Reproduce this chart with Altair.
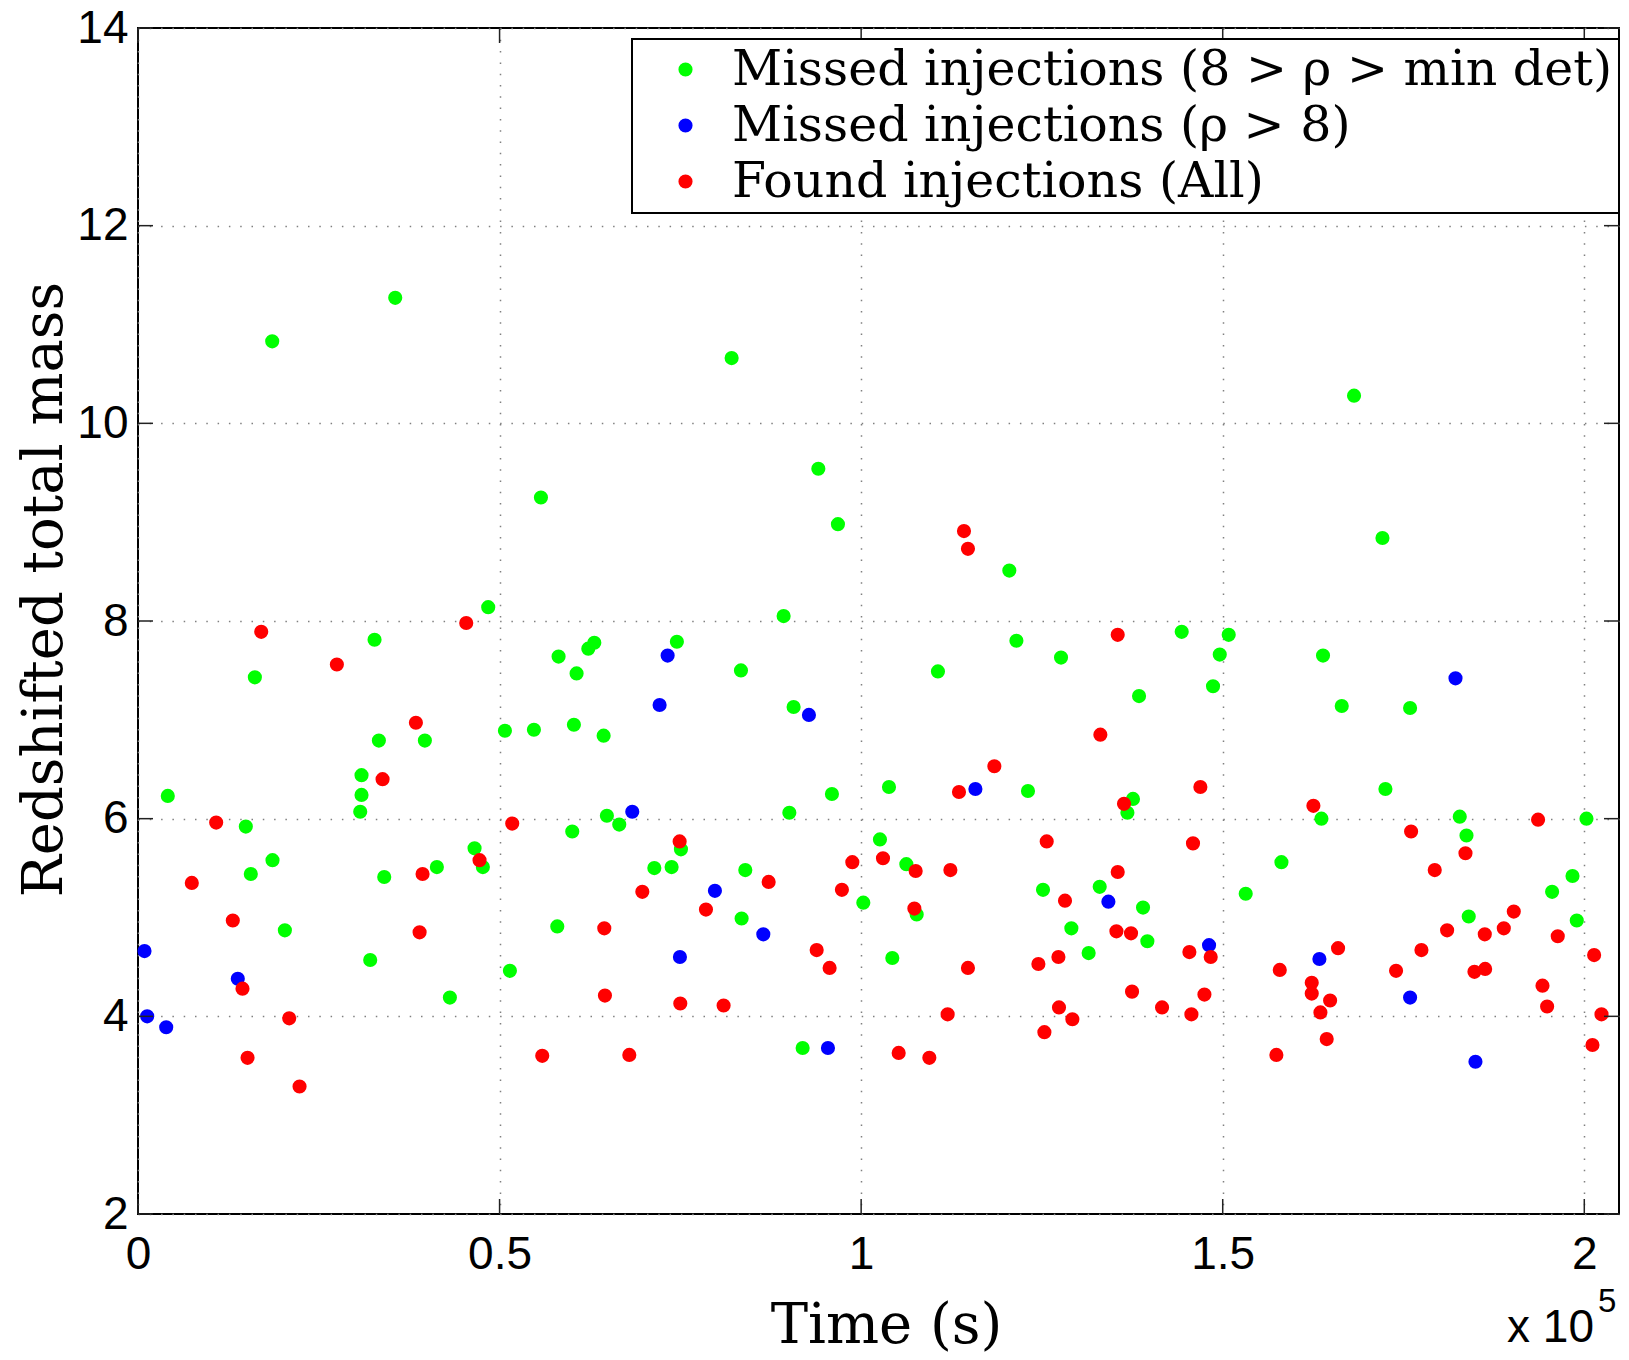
import altair as alt
import pandas as pd

# ---------------- data (time in units of 1e5 s) ----------------
labels = [
    "Missed injections (8 > ρ > min det)",
    "Missed injections (ρ > 8)",
    "Found injections (All)",
]
colors = ["#00FF00", "#0000FF", "#FF0000"]

green_t = [0.1856, 0.3557, 0.8209, 1.6816,
           0.5572, 0.4843, 0.3271, 0.1616, 0.5816, 0.6227, 0.6310, 0.6065, 0.3331, 0.3967,
           0.5074, 0.5475, 0.6028, 0.6439, 0.3091, 0.3091, 0.3073, 0.0412, 0.6484,
           0.9408, 0.9679, 1.2049, 0.8928, 0.7452, 0.8338, 0.9066, 1.1062, 1.2147, 1.2764,
           1.2307, 1.0385, 0.9596, 0.9007,
           1.7209, 1.4433, 1.5083, 1.4959, 1.6387, 1.3843, 1.4866, 1.6646, 1.7591, 1.3759,
           1.3682, 1.6365, 1.7250, 1.8278, 2.0030,
           0.1491, 0.6005, 0.6655, 0.4654, 0.4769, 0.4133, 0.3405, 0.1860, 0.1560, 0.2031,
           0.5798, 0.3211, 0.5143, 0.4313,
           0.7508, 0.7140, 0.7379, 0.8398, 0.8347, 0.9191, 1.0260, 1.0625, 1.0030, 1.0768,
           1.0431, 1.2515, 1.3299, 1.2907, 1.3146,
           1.8371, 1.5812, 1.5318, 1.9837, 1.9555, 1.3898, 1.3958, 1.8402, 1.9896]
green_m = [10.83, 11.27, 10.66, 10.28,
           9.25, 8.14, 7.81, 7.43, 7.64, 7.72, 7.78, 7.47, 6.79, 6.79,
           6.89, 6.90, 6.95, 6.84, 6.44, 6.24, 6.07, 6.23, 6.03,
           9.54, 8.98, 8.51, 8.05, 7.79, 7.50, 7.13, 7.49, 7.80, 7.63,
           6.28, 6.32, 6.25, 6.06,
           8.84, 7.89, 7.86, 7.66, 7.65, 7.24, 7.34, 7.14, 7.12, 6.20,
           6.06, 6.00, 6.30, 6.02, 6.00,
           5.92, 5.87, 5.94, 5.70, 5.51, 5.51, 5.41, 5.58, 5.44, 4.87,
           4.91, 4.57, 4.46, 4.19,
           5.69, 5.50, 5.51, 5.48, 4.99, 3.68, 5.79, 5.54, 5.15, 5.03,
           4.59, 5.28, 5.31, 4.89, 4.64,
           5.83, 5.56, 5.24, 5.42, 5.26, 5.10, 4.76, 5.01, 4.97]

blue_t = [0.0090, 0.0127, 0.0390, 0.1380, 0.6835, 0.7324, 0.7213, 0.9278, 0.7978, 0.8647,
          0.7494, 0.9541, 1.1580, 1.3419, 1.4811, 1.6337, 1.7591, 1.8495, 1.8219]
blue_m = [4.66, 4.00, 3.89, 4.38, 6.07, 7.65, 7.15, 7.05, 5.27, 4.83,
          4.60, 3.68, 6.30, 5.16, 4.72, 4.58, 4.19, 3.54, 7.42]

red_t = [0.4539, 0.1704, 0.2750, 0.3843, 0.3382,
         1.1422, 1.1477, 1.1842, 1.1353, 1.3308,
         1.3548, 1.4691, 1.3635, 1.6254, 1.9361,
         0.1081, 0.5175, 0.4723, 0.3935, 0.0744, 0.1311, 0.3894, 0.6448, 0.1445, 0.6457,
         0.2091, 0.1515, 0.5590, 0.2234,
         0.7490, 0.6974, 0.8721, 0.7854, 0.9385, 0.9564, 0.7499, 0.8098, 0.6794, 0.9878,
         1.0302, 1.0754, 1.1234, 0.9734, 1.0736, 1.1477, 1.1196, 1.0519, 1.0943, 1.2566,
         1.2819, 1.2451, 1.2728, 1.2736, 1.2921, 1.2534,
         1.7605, 1.8357, 1.4589, 1.3548, 1.7932, 1.3530, 1.3732, 1.9025, 1.8103, 1.8887,
         1.8624, 1.9633, 1.7748, 1.4539, 1.4834, 1.6595, 2.0136, 1.5789, 1.7397, 1.8481,
         1.8629, 1.6231, 1.6231, 1.6485, 1.6351, 1.3746, 1.4747, 1.4161, 1.4567, 1.9422,
         1.9486, 2.0238, 1.6438, 1.5742, 2.0113]
red_m = [7.98, 7.89, 7.56, 6.97, 6.40,
         8.91, 8.73, 6.53, 6.27, 6.85,
         7.86, 6.32, 6.15, 6.13, 5.99,
         5.96, 5.95, 5.58, 5.44, 5.35, 4.97, 4.85, 4.89, 4.28, 4.21,
         3.98, 3.58, 3.60, 3.29,
         5.77, 5.26, 5.36, 5.08, 4.67, 4.49, 4.13, 4.11, 3.61, 5.56,
         5.60, 5.47, 5.48, 5.28, 5.09, 4.49, 4.02, 3.63, 3.58, 5.77,
         5.17, 4.53, 4.60, 4.09, 3.97, 3.84,
         5.87, 5.65, 5.75, 5.46, 5.48, 4.86, 4.84, 5.06, 4.87, 4.89,
         4.83, 4.81, 4.67, 4.65, 4.60, 4.69, 4.62, 4.47, 4.46, 4.45,
         4.48, 4.34, 4.23, 4.16, 4.04, 4.25, 4.22, 4.09, 4.02, 4.31,
         4.10, 4.02, 3.77, 3.61, 3.71]

x_ticks = [0, 0.5, 1, 1.5, 2]
y_ticks = [2, 4, 6, 8, 10, 12, 14]
x_domain = [0, 2.048]
y_domain = [2, 14]
exponent_base = ["x 10"]
exponent_power = ["5"]

# ---------------- layout ----------------
W, H = 1481, 1186
TICK = 15
SERIF = "DejaVu Serif"
SANS = "Liberation Sans"

df = pd.concat([
    pd.DataFrame({"t": green_t, "m": green_m, "kind": labels[0]}),
    pd.DataFrame({"t": blue_t, "m": blue_m, "kind": labels[1]}),
    pd.DataFrame({"t": red_t, "m": red_m, "kind": labels[2]}),
], ignore_index=True)

xs = alt.Scale(domain=x_domain, nice=False, zero=False)
ys = alt.Scale(domain=y_domain, nice=False, zero=False)

x_axis = alt.Axis(
    values=x_ticks, format="~g", labelFlush=False, labelFont=SANS, labelFontSize=46,
    labelColor="black", labelBaseline="alphabetic", labelPadding=54,
    ticks=False, tickSize=0, domain=False,
    grid=True, gridDash=[1.5, 9.8], gridColor="#808080", gridWidth=1.5,
    title="Time (s)", titleFont=SERIF, titleFontSize=56, titleFontWeight="normal",
    titleColor="black", titleX=748, titleY=128, titleBaseline="alphabetic", titleAlign="center",
)
y_axis = alt.Axis(
    values=y_ticks, labelFont=SANS, labelFontSize=46, labelColor="black", labelPadding=10,
    ticks=False, tickSize=0, domain=False,
    grid=True, gridDash=[1.5, 9.8], gridColor="#808080", gridWidth=1.5,
    title="Redshifted total mass", titleFont=SERIF, titleFontSize=56, titleFontWeight="normal",
    titleColor="black", titleAngle=270, titleX=-77, titleY=561, titleBaseline="alphabetic",
    titleAlign="center",
)

points = alt.Chart(df).mark_circle(size=200, opacity=1).encode(
    x=alt.X("t:Q", scale=xs, axis=x_axis),
    y=alt.Y("m:Q", scale=ys, axis=y_axis),
    color=alt.Color(
        "kind:N",
        scale=alt.Scale(domain=labels, range=colors),
        title=None,
        legend=alt.Legend(
            orient="none", legendX=494, legendY=11, direction="vertical",
            labelFont=SERIF, labelFontSize=49, labelColor="black", labelLimit=3000,
            symbolType="circle", symbolSize=200, symbolStrokeWidth=0, symbolOpacity=1,
            symbolOffset=23, labelOffset=22, rowPadding=6, padding=6,
            strokeColor="black", fillColor="white",
        ),
    ),
)

ydf = pd.DataFrame({"m": y_ticks})
xdf = pd.DataFrame({"t": x_ticks})
rule_style = dict(color="#222222", strokeWidth=1.5)

left_ticks = alt.Chart(ydf).mark_rule(**rule_style).encode(
    y=alt.Y("m:Q", scale=ys, axis=y_axis), x=alt.value(0), x2=alt.value(TICK))
right_ticks = alt.Chart(ydf).mark_rule(**rule_style).encode(
    y=alt.Y("m:Q", scale=ys, axis=y_axis), x=alt.value(W - TICK), x2=alt.value(W))
top_ticks = alt.Chart(xdf).mark_rule(**rule_style).encode(
    x=alt.X("t:Q", scale=xs, axis=x_axis), y=alt.value(0), y2=alt.value(TICK))
bottom_ticks = alt.Chart(xdf).mark_rule(**rule_style).encode(
    x=alt.X("t:Q", scale=xs, axis=x_axis), y=alt.value(H - TICK), y2=alt.value(H))

exp_base = alt.Chart(pd.DataFrame({"s": exponent_base})).mark_text(
    font=SANS, fontSize=46, align="right", baseline="alphabetic", color="black"
).encode(x=alt.value(1456), y=alt.value(1314), text="s:N")
exp_pow = alt.Chart(pd.DataFrame({"s": exponent_power})).mark_text(
    font=SANS, fontSize=33, align="left", baseline="alphabetic", color="black"
).encode(x=alt.value(1460), y=alt.value(1284), text="s:N")

chart = alt.layer(
    points, left_ticks, right_ticks, top_ticks, bottom_ticks, exp_base, exp_pow
).properties(
    width=W, height=H,
    autosize=alt.AutoSizeParams(type="none"),
    padding={"left": 138, "top": 28, "right": 10, "bottom": 146},
    background="white",
).configure_view(
    stroke="black", strokeWidth=2
).configure_legend(
    strokeWidth=2
)

chart.save("out.html", embed_options={"renderer": "svg", "actions": False})
